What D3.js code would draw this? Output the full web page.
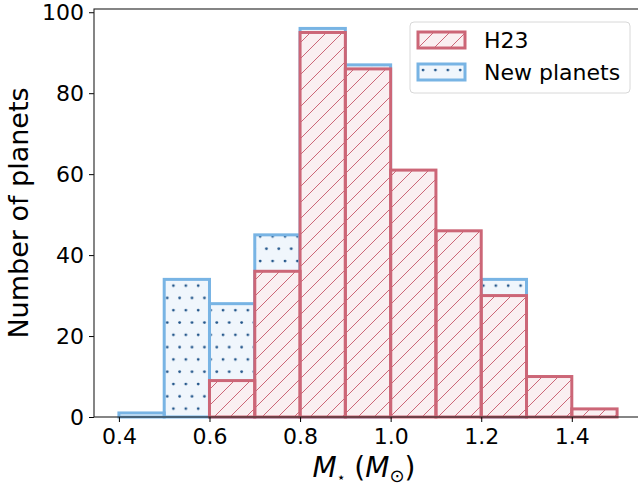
<!DOCTYPE html>
<html>
<head>
<meta charset="utf-8">
<script src="https://cdn.jsdelivr.net/npm/d3@7"></script>
<style>
    body { margin: 0; background: white; }
    text { font-family: "DejaVu Sans", sans-serif; }
</style>
</head>
<body>
<div id="hist"></div>
<script>
// * STEP 1: Data
//==============================================
var binEdges = [0.4, 0.5, 0.6, 0.7, 0.8, 0.9, 1.0, 1.1, 1.2, 1.3, 1.4, 1.5];
var h23Counts = [0, 0, 9, 36, 95, 86, 61, 46, 30, 10, 2];
var newCounts = [1, 34, 19, 9, 1, 1, 0, 0, 4, 0, 0];
var xTicks = [0.4, 0.6, 0.8, 1.0, 1.2, 1.4];
var yTicks = [0, 20, 40, 60, 80, 100];
var seriesNames = ["H23", "New planets"];

// * STEP 2: Work area
//==============================================
var svgWidth = 638;
var svgHeight = 485;

var chartMargin = { top: 9, left: 94 };
var chartWidth = 548;
var chartHeight = 408;

var redEdge = "#cc6677";
var redFill = "#faeff1";
var blueEdge = "#78b4e4";
var blueFill = "#f0f6fc";
var dotColor = "#22558a";

var svg = d3.select("#hist")
    .append("svg")
    .attr("width", svgWidth)
    .attr("height", svgHeight);

// hatch patterns
var defs = svg.append("defs");
var hs = 16;
var slash = defs.append("pattern")
    .attr("id", "slash")
    .attr("patternUnits", "userSpaceOnUse")
    .attr("width", hs)
    .attr("height", hs);
slash.append("path")
    .attr("d", `M${-hs / 4},${hs / 4} L${hs / 4},${-hs / 4} M0,${hs} L${hs},0 M${hs * 0.75},${hs * 1.25} L${hs * 1.25},${hs * 0.75}`)
    .attr("stroke", redEdge)
    .attr("stroke-width", 1);

var dots = defs.append("pattern")
    .attr("id", "dots")
    .attr("patternUnits", "userSpaceOnUse")
    .attr("width", 12.4)
    .attr("height", 24.6)
    .attr("x", 2)
    .attr("y", 3);
dots.append("circle").attr("cx", 3).attr("cy", 3).attr("r", 1.4).attr("fill", dotColor);
dots.append("circle").attr("cx", 9.2).attr("cy", 15.3).attr("r", 1.4).attr("fill", dotColor);

var chartGroup = svg.append("g")
    .attr("transform", `translate(${chartMargin.left}, ${chartMargin.top})`);

// * STEP 3: Scales
//==============================================
var xScale = d3.scaleLinear()
    .domain([0.345, 1.555])
    .range([0, chartWidth]);

var yScale = d3.scaleLinear()
    .domain([0, 100.8])
    .range([chartHeight, 0]);

// bins with stacked totals (new planets sit on top of H23)
var bins = h23Counts.map((c, i) => ({
    x0: binEdges[i],
    x1: binEdges[i + 1],
    h23: c,
    total: c + newCounts[i]
}));

// * STEP 4: Bars
//==============================================
// New planets (stacked total) drawn first
chartGroup.selectAll(".newBar")
    .data(bins.filter(d => d.total > d.h23))
    .enter()
    .append("rect")
    .attr("class", "newBar")
    .attr("x", d => xScale(d.x0))
    .attr("width", d => xScale(d.x1) - xScale(d.x0))
    .attr("y", d => yScale(d.total))
    .attr("height", d => yScale(0) - yScale(d.total))
    .attr("fill", blueFill)
    .attr("stroke", "none");

chartGroup.selectAll(".newHatch")
    .data(bins.filter(d => d.total > d.h23))
    .enter()
    .append("rect")
    .attr("x", d => xScale(d.x0))
    .attr("width", d => xScale(d.x1) - xScale(d.x0))
    .attr("y", d => yScale(d.total))
    .attr("height", d => yScale(0) - yScale(d.total))
    .attr("fill", "url(#dots)")
    .attr("stroke", blueEdge)
    .attr("stroke-width", 3);

// H23 on top
chartGroup.selectAll(".h23Bar")
    .data(bins)
    .enter()
    .append("rect")
    .attr("class", "h23Bar")
    .attr("x", d => xScale(d.x0))
    .attr("width", d => xScale(d.x1) - xScale(d.x0))
    .attr("y", d => yScale(d.h23))
    .attr("height", d => yScale(0) - yScale(d.h23))
    .attr("fill", redFill);

chartGroup.selectAll(".h23Hatch")
    .data(bins)
    .enter()
    .append("rect")
    .attr("x", d => xScale(d.x0))
    .attr("width", d => xScale(d.x1) - xScale(d.x0))
    .attr("y", d => yScale(d.h23))
    .attr("height", d => yScale(0) - yScale(d.h23))
    .attr("fill", "url(#slash)")
    .attr("stroke", redEdge)
    .attr("stroke-width", 3);

// * STEP 5: Axes
//==============================================
var bottomAxis = d3.axisBottom(xScale)
    .tickValues(xTicks)
    .tickFormat(d3.format(".1f"))
    .tickSize(5)
    .tickPadding(6);

var leftAxis = d3.axisLeft(yScale)
    .tickValues(yTicks)
    .tickSize(5)
    .tickPadding(5);

var xAxisG = chartGroup.append("g")
    .attr("transform", `translate(0, ${chartHeight})`)
    .call(bottomAxis);

var yAxisG = chartGroup.append("g")
    .call(leftAxis);

[xAxisG, yAxisG].forEach(g => {
    g.select(".domain").remove();
    g.selectAll("line").attr("stroke", "#000").attr("stroke-width", 1);
    g.selectAll("text")
        .attr("font-family", "DejaVu Sans")
        .attr("font-size", "22px")
        .attr("fill", "#000");
});

// spines
chartGroup.append("rect")
    .attr("x", 0)
    .attr("y", 0)
    .attr("width", chartWidth)
    .attr("height", chartHeight)
    .attr("fill", "none")
    .attr("stroke", "#222")
    .attr("stroke-width", 1.1);

// axis labels
chartGroup.append("text")
    .attr("transform", `translate(${-66}, ${chartHeight / 2}) rotate(-90)`)
    .attr("text-anchor", "middle")
    .attr("font-size", "27px")
    .attr("fill", "#000")
    .text("Number of planets");

var xLabel = chartGroup.append("text")
    .attr("x", (xScale(0.345) + (svgWidth - chartMargin.left)) / 2 - 2)
    .attr("y", chartHeight + 60)
    .attr("text-anchor", "middle")
    .attr("font-size", "28px")
    .attr("fill", "#000");
xLabel.append("tspan").attr("font-style", "italic").text("M");
xLabel.append("tspan").attr("font-size", "14px").attr("dy", 5).text("\u22c6");
xLabel.append("tspan").attr("dy", -5).text(" (");
xLabel.append("tspan").attr("font-style", "italic").text("M");
xLabel.append("tspan").attr("font-size", "18px").attr("dy", 5).text("\u2299");
xLabel.append("tspan").attr("dy", -5).text(")");

// * STEP 6: Legend
//==============================================
var legend = svg.append("g")
    .attr("transform", "translate(410, 22)");

legend.append("rect")
    .attr("width", 220)
    .attr("height", 71)
    .attr("rx", 4)
    .attr("fill", "white")
    .attr("fill-opacity", 0.8)
    .attr("stroke", "#d8d8d8");

var legendItems = [
    { name: seriesNames[0], fill: redFill, hatch: "url(#slash)", edge: redEdge },
    { name: seriesNames[1], fill: blueFill, hatch: "url(#dots)", edge: blueEdge }
];

legendItems.forEach((item, i) => {
    var row = legend.append("g")
        .attr("transform", `translate(8, ${10 + i * 32})`);
    row.append("rect")
        .attr("width", 47).attr("height", 16)
        .attr("fill", item.fill);
    row.append("rect")
        .attr("width", 47).attr("height", 16)
        .attr("fill", item.hatch)
        .attr("stroke", item.edge)
        .attr("stroke-width", 3);
    row.append("text")
        .attr("x", 66)
        .attr("y", 16)
        .attr("font-size", "22px")
        .attr("fill", "#000")
        .text(item.name);
});
</script>
</body>
</html>
